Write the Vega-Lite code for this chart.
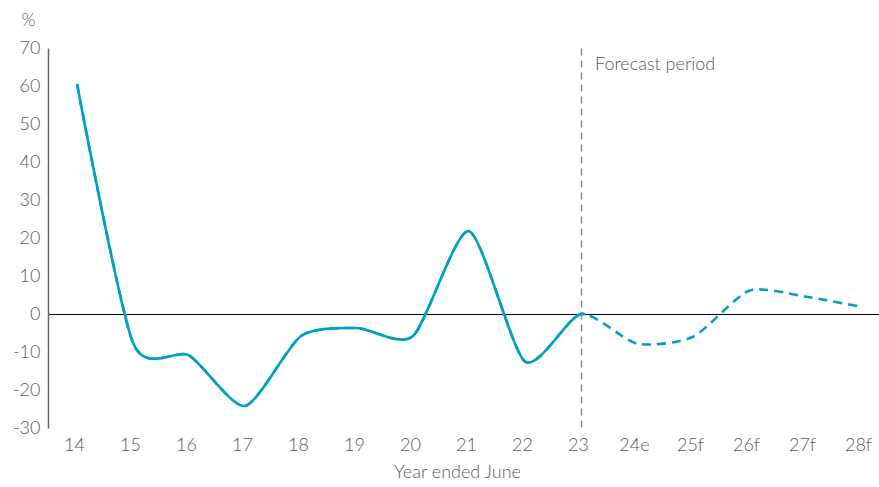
{
  "$schema": "https://vega.github.io/schema/vega-lite/v6.json",
  "width": 831,
  "height": 380,
  "autosize": {"type": "none"},
  "padding": {"left": 48, "top": 48, "right": 0, "bottom": 59},
  "background": "white",
  "config": {
    "view": {"stroke": null},
    "font": "Lato Light, Lato",
    "text": {"font": "Lato Light, Lato"}
  },
  "data": {
    "values": [
      {"year": "14", "value": 60.5},
      {"year": "15", "value": -7.6},
      {"year": "16", "value": -10.9},
      {"year": "17", "value": -24.2},
      {"year": "18", "value": -5.8},
      {"year": "19", "value": -3.7},
      {"year": "20", "value": -5.8},
      {"year": "21", "value": 21.8},
      {"year": "22", "value": -12.5},
      {"year": "23", "value": 0},
      {"year": "24e", "value": -7.8},
      {"year": "25f", "value": -6},
      {"year": "26f", "value": 6.1},
      {"year": "27f", "value": 4.6},
      {"year": "28f", "value": 1.9}
    ]
  },
  "encoding": {
    "x": {
      "field": "year",
      "type": "ordinal",
      "scale": {
        "type": "point",
        "padding": 0.42,
        "align": 0.617,
        "domain": ["14", "15", "16", "17", "18", "19", "20", "21", "22", "23", "24e", "25f", "26f", "27f", "28f"]
      },
      "axis": {
        "title": "Year ended June",
        "titleFont": "Lato Light, Lato",
        "titleFontSize": 18,
        "titleFontWeight": "normal",
        "titleColor": "#595959",
        "titlePadding": 9,
        "titleX": 409,
        "labelAngle": 0,
        "labelOffset": -3,
        "labelFont": "Lato Light, Lato",
        "labelFontSize": 18,
        "labelFontWeight": "normal",
        "labelColor": "#595959",
        "labelPadding": 8,
        "domain": false,
        "ticks": false,
        "grid": true,
        "gridDash": [7, 5],
        "gridWidth": 1.5,
        "gridColor": {"condition": {"test": "datum.value === '23'", "value": "#8c8c8c"}, "value": "transparent"}
      }
    },
    "y": {
      "field": "value",
      "type": "quantitative",
      "scale": {"domain": [-30, 70], "nice": false, "zero": false},
      "axis": {
        "values": [-30, -20, -10, 0, 10, 20, 30, 40, 50, 60, 70],
        "labelExpr": "'' + datum.value",
        "labelOverlap": false,
        "title": "%",
        "titleAngle": 0,
        "titleAlign": "center",
        "titleBaseline": "alphabetic",
        "titleX": -20,
        "titleY": -23,
        "titleFont": "Lato Light, Lato",
        "titleFontSize": 18,
        "titleFontWeight": "normal",
        "titleColor": "#595959",
        "labelFont": "Lato Light, Lato",
        "labelFontSize": 18,
        "labelFontWeight": "normal",
        "labelColor": "#595959",
        "labelPadding": 8,
        "domain": true,
        "domainColor": "#666666",
        "domainWidth": 1.5,
        "ticks": false,
        "grid": true,
        "gridWidth": 1,
        "gridColor": {"condition": {"test": "datum.value === 0", "value": "#000000"}, "value": "transparent"}
      }
    }
  },
  "layer": [
    {
      "mark": {"type": "line", "interpolate": "cardinal", "tension": 0.3, "strokeWidth": 2.6, "color": "#00a0c6", "strokeDash": [9, 6]}
    },
    {
      "mark": {"type": "line", "interpolate": "cardinal", "tension": 0.3, "strokeWidth": 2.6, "color": "#00a0c6", "strokeDash": [955, 6000]}
    },
    {
      "transform": [{"filter": "datum.year === '23'"}],
      "mark": {"type": "text", "text": "Forecast period", "align": "left", "baseline": "alphabetic", "dx": 14, "dy": 22, "fontSize": 18, "fontWeight": "normal", "color": "#595959", "font": "Lato Light, Lato"},
      "encoding": {"y": {"datum": 70}}
    }
  ]
}
